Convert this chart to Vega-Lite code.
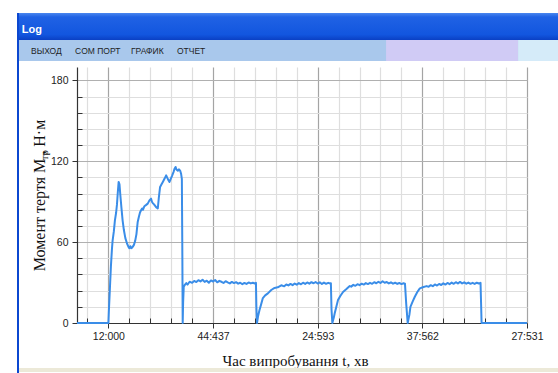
{
  "$schema": "https://vega.github.io/schema/vega-lite/v6.json",
  "background": "white",
  "padding": {"left": 17, "top": 13, "right": 0, "bottom": 0},
  "config": {"view": {"stroke": null}},
  "spacing": 0,
  "bounds": "full",
  "hconcat": [
    {
      "width": 2,
      "height": 360,
      "view": {"fill": "#0b47d0"},
      "data": {"values": [{}]},
      "mark": {"type": "point", "opacity": 0, "size": 0, "strokeWidth": 0},
      "encoding": {}
    },
    {
      "spacing": 0,
      "bounds": "full",
      "vconcat": [
        {
          "width": 539,
          "height": 27,
          "data": {"values": [{"caption": "Log"}]},
          "layer": [
            {
              "mark": {
                "type": "rect",
                "color": {
                  "gradient": "linear", "x1": 0, "y1": 0, "x2": 0, "y2": 1,
                  "stops": [
                    {"offset": 0, "color": "#4a86ee"},
                    {"offset": 0.15, "color": "#2062e4"},
                    {"offset": 0.8, "color": "#1256df"},
                    {"offset": 1, "color": "#0a40c4"}
                  ]
                }
              },
              "encoding": {
                "x": {"datum": 0, "type": "quantitative", "scale": {"domain": [0, 1]}, "axis": null},
                "x2": {"datum": 1},
                "y": {"datum": 0, "type": "quantitative", "scale": {"domain": [0, 1]}, "axis": null},
                "y2": {"datum": 1}
              }
            },
            {
              "mark": {"type": "text", "color": "white", "font": "Liberation Sans", "fontSize": 11, "fontWeight": "bold", "align": "left", "baseline": "alphabetic"},
              "encoding": {
                "text": {"field": "caption"},
                "x": {"datum": 0.005},
                "y": {"datum": 0.27}
              }
            }
          ]
        },
        {
          "width": 539,
          "height": 21,
          "view": {"fill": "#a9c8ec"},
          "layer": [
            {
              "data": {"values": [{}]},
              "mark": {"type": "rect", "color": "#d0cbf5"},
              "encoding": {
                "x": {"datum": 0.681, "type": "quantitative", "scale": {"domain": [0, 1]}, "axis": null},
                "x2": {"datum": 0.926},
                "y": {"datum": 0, "type": "quantitative", "scale": {"domain": [0, 1]}, "axis": null},
                "y2": {"datum": 1}
              }
            },
            {
              "data": {"values": [{}]},
              "mark": {"type": "rect", "color": "#d5ebf9"},
              "encoding": {
                "x": {"datum": 0.926},
                "x2": {"datum": 1},
                "y": {"datum": 0},
                "y2": {"datum": 1}
              }
            },
            {
              "data": {"values": [{"item": "ВЫХОД"}]},
              "mark": {"type": "text", "font": "Liberation Sans", "fontSize": 8.5, "color": "#1e1e1e", "align": "left", "baseline": "alphabetic"},
              "encoding": {"text": {"field": "item"}, "x": {"datum": 0.0223}, "y": {"datum": 0.333}}
            },
            {
              "data": {"values": [{"item": "COM ПОРТ"}]},
              "mark": {"type": "text", "font": "Liberation Sans", "fontSize": 8.5, "color": "#1e1e1e", "align": "left", "baseline": "alphabetic"},
              "encoding": {"text": {"field": "item"}, "x": {"datum": 0.1039}, "y": {"datum": 0.333}}
            },
            {
              "data": {"values": [{"item": "ГРАФИК"}]},
              "mark": {"type": "text", "font": "Liberation Sans", "fontSize": 8.5, "color": "#1e1e1e", "align": "left", "baseline": "alphabetic"},
              "encoding": {"text": {"field": "item"}, "x": {"datum": 0.2078}, "y": {"datum": 0.333}}
            },
            {
              "data": {"values": [{"item": "ОТЧЕТ"}]},
              "mark": {"type": "text", "font": "Liberation Sans", "fontSize": 8.5, "color": "#1e1e1e", "align": "left", "baseline": "alphabetic"},
              "encoding": {"text": {"field": "item"}, "x": {"datum": 0.2931}, "y": {"datum": 0.333}}
            }
          ]
        },
        {
          "width": 539,
          "height": 6,
          "data": {"values": [{}]},
          "mark": {"type": "point", "opacity": 0, "size": 0, "strokeWidth": 0},
          "encoding": {}
        },
        {
          "spacing": 0,
          "bounds": "flush",
          "hconcat": [
            {
              "width": 58,
              "height": 256,
              "data": {"values": [{}]},
              "mark": {"type": "point", "opacity": 0, "size": 0, "strokeWidth": 0},
              "encoding": {}
            },
            {
              "width": 450,
              "height": 256,
              "view": {"fill": "white"},
              "data": {
                "values": [
                  {"t": -1.5, "m": 0}, {"t": 0, "m": 0},
                  {"t": 0.02, "m": 8}, {"t": 0.07, "m": 25}, {"t": 0.12, "m": 42}, {"t": 0.17, "m": 55},
                  {"t": 0.2, "m": 61}, {"t": 0.26, "m": 68}, {"t": 0.31, "m": 76}, {"t": 0.37, "m": 82},
                  {"t": 0.41, "m": 88}, {"t": 0.45, "m": 97}, {"t": 0.49, "m": 104.7}, {"t": 0.53, "m": 103},
                  {"t": 0.57, "m": 95}, {"t": 0.62, "m": 86}, {"t": 0.68, "m": 76}, {"t": 0.74, "m": 69},
                  {"t": 0.81, "m": 63}, {"t": 0.89, "m": 59}, {"t": 0.96, "m": 56.5}, {"t": 1.0, "m": 55.5},
                  {"t": 1.05, "m": 57}, {"t": 1.1, "m": 55.5}, {"t": 1.16, "m": 56.5}, {"t": 1.22, "m": 58},
                  {"t": 1.28, "m": 61}, {"t": 1.34, "m": 66}, {"t": 1.4, "m": 75}, {"t": 1.46, "m": 79},
                  {"t": 1.51, "m": 82}, {"t": 1.56, "m": 83.7}, {"t": 1.61, "m": 85}, {"t": 1.65, "m": 84},
                  {"t": 1.72, "m": 86.7}, {"t": 1.79, "m": 87.5}, {"t": 1.88, "m": 88.6}, {"t": 1.96, "m": 91},
                  {"t": 2.04, "m": 92.3}, {"t": 2.08, "m": 90}, {"t": 2.12, "m": 89}, {"t": 2.18, "m": 88},
                  {"t": 2.28, "m": 86}, {"t": 2.36, "m": 85}, {"t": 2.41, "m": 93}, {"t": 2.47, "m": 101},
                  {"t": 2.54, "m": 103}, {"t": 2.6, "m": 104.7}, {"t": 2.68, "m": 107}, {"t": 2.76, "m": 109.6},
                  {"t": 2.82, "m": 107.5}, {"t": 2.87, "m": 106}, {"t": 2.92, "m": 104.7}, {"t": 2.98, "m": 107},
                  {"t": 3.05, "m": 109.6}, {"t": 3.11, "m": 112}, {"t": 3.16, "m": 114.5}, {"t": 3.21, "m": 115.8},
                  {"t": 3.25, "m": 114}, {"t": 3.32, "m": 113}, {"t": 3.37, "m": 114}, {"t": 3.43, "m": 113},
                  {"t": 3.47, "m": 111}, {"t": 3.51, "m": 107}, {"t": 3.53, "m": 60}, {"t": 3.55, "m": 0},
                  {"t": 3.57, "m": 15}, {"t": 3.6, "m": 27}, {"t": 3.66, "m": 28.5}, {"t": 3.72, "m": 29.6},
                  {"t": 3.78, "m": 28.5}, {"t": 3.88, "m": 30.6},
                  {"t": 3.9, "m": 30.6}, {"t": 4.0, "m": 29.8}, {"t": 4.1, "m": 31.2}, {"t": 4.2, "m": 30.4},
                  {"t": 4.3, "m": 31.8}, {"t": 4.4, "m": 30.9}, {"t": 4.5, "m": 32.1}, {"t": 4.6, "m": 30.5},
                  {"t": 4.7, "m": 31.4}, {"t": 4.8, "m": 29.9}, {"t": 4.9, "m": 31.6}, {"t": 5.0, "m": 30.8},
                  {"t": 5.1, "m": 31.9}, {"t": 5.2, "m": 30.2}, {"t": 5.3, "m": 31.3}, {"t": 5.4, "m": 30.6},
                  {"t": 5.5, "m": 29.7}, {"t": 5.6, "m": 31.0}, {"t": 5.7, "m": 30.1}, {"t": 5.8, "m": 29.4},
                  {"t": 5.9, "m": 30.5}, {"t": 6.0, "m": 29.6}, {"t": 6.1, "m": 30.3}, {"t": 6.2, "m": 29.2},
                  {"t": 6.3, "m": 29.9}, {"t": 6.4, "m": 28.8}, {"t": 6.5, "m": 29.7}, {"t": 6.6, "m": 29.0},
                  {"t": 6.7, "m": 30.1}, {"t": 6.8, "m": 29.4}, {"t": 6.9, "m": 29.9}, {"t": 7.0, "m": 29.3},
                  {"t": 7.05, "m": 29.8}, {"t": 7.07, "m": 12}, {"t": 7.1, "m": 0}, {"t": 7.15, "m": 5},
                  {"t": 7.22, "m": 9.6}, {"t": 7.3, "m": 14}, {"t": 7.38, "m": 18.5}, {"t": 7.49, "m": 20.5},
                  {"t": 7.62, "m": 22}, {"t": 7.78, "m": 24.5}, {"t": 7.94, "m": 26}, {"t": 8.09, "m": 26.5},
                  {"t": 8.26, "m": 28},
                  {"t": 8.4, "m": 27.2}, {"t": 8.5, "m": 28.6}, {"t": 8.6, "m": 27.9}, {"t": 8.7, "m": 29.0},
                  {"t": 8.8, "m": 28.1}, {"t": 8.9, "m": 29.3}, {"t": 9.0, "m": 28.4}, {"t": 9.1, "m": 29.6},
                  {"t": 9.2, "m": 28.7}, {"t": 9.3, "m": 29.9}, {"t": 9.4, "m": 29.0}, {"t": 9.5, "m": 30.1},
                  {"t": 9.6, "m": 29.2}, {"t": 9.7, "m": 30.3}, {"t": 9.8, "m": 29.5}, {"t": 9.9, "m": 30.4},
                  {"t": 10.0, "m": 29.3}, {"t": 10.1, "m": 30.2}, {"t": 10.2, "m": 29.0}, {"t": 10.3, "m": 30.0},
                  {"t": 10.4, "m": 29.1}, {"t": 10.5, "m": 29.8}, {"t": 10.6, "m": 29.3},
                  {"t": 10.63, "m": 29.5}, {"t": 10.66, "m": 10}, {"t": 10.7, "m": 0}, {"t": 10.77, "m": 4},
                  {"t": 10.81, "m": 7}, {"t": 10.89, "m": 12}, {"t": 10.97, "m": 17}, {"t": 11.08, "m": 20},
                  {"t": 11.21, "m": 23}, {"t": 11.36, "m": 25}, {"t": 11.53, "m": 27.4},
                  {"t": 11.6, "m": 27.0}, {"t": 11.7, "m": 28.3}, {"t": 11.8, "m": 27.6}, {"t": 11.9, "m": 28.8},
                  {"t": 12.0, "m": 28.1}, {"t": 12.1, "m": 29.2}, {"t": 12.2, "m": 28.5}, {"t": 12.3, "m": 29.6},
                  {"t": 12.4, "m": 28.9}, {"t": 12.5, "m": 29.8}, {"t": 12.6, "m": 29.1}, {"t": 12.7, "m": 30.3},
                  {"t": 12.8, "m": 29.5}, {"t": 12.9, "m": 30.6}, {"t": 13.0, "m": 29.7}, {"t": 13.1, "m": 31.0},
                  {"t": 13.2, "m": 29.9}, {"t": 13.3, "m": 30.4}, {"t": 13.4, "m": 29.4}, {"t": 13.5, "m": 30.2},
                  {"t": 13.6, "m": 29.2}, {"t": 13.7, "m": 29.9}, {"t": 13.8, "m": 29.0}, {"t": 13.9, "m": 29.7},
                  {"t": 14.0, "m": 28.9}, {"t": 14.1, "m": 29.5}, {"t": 14.17, "m": 29.2},
                  {"t": 14.23, "m": 14}, {"t": 14.3, "m": 0}, {"t": 14.38, "m": 6}, {"t": 14.43, "m": 12},
                  {"t": 14.54, "m": 16}, {"t": 14.64, "m": 19.5}, {"t": 14.76, "m": 23}, {"t": 14.88, "m": 25.7},
                  {"t": 15.02, "m": 26.5}, {"t": 15.2, "m": 27.4},
                  {"t": 15.3, "m": 26.9}, {"t": 15.4, "m": 28.1}, {"t": 15.5, "m": 27.3}, {"t": 15.6, "m": 28.6},
                  {"t": 15.7, "m": 27.8}, {"t": 15.8, "m": 29.0}, {"t": 15.9, "m": 28.2}, {"t": 16.0, "m": 29.4},
                  {"t": 16.1, "m": 28.5}, {"t": 16.2, "m": 29.7}, {"t": 16.3, "m": 28.8}, {"t": 16.4, "m": 30.0},
                  {"t": 16.5, "m": 29.1}, {"t": 16.6, "m": 30.3}, {"t": 16.7, "m": 29.3}, {"t": 16.8, "m": 30.5},
                  {"t": 16.9, "m": 29.4}, {"t": 17.0, "m": 30.2}, {"t": 17.1, "m": 29.2}, {"t": 17.2, "m": 30.0},
                  {"t": 17.3, "m": 29.1}, {"t": 17.4, "m": 29.8}, {"t": 17.5, "m": 29.0}, {"t": 17.6, "m": 29.9},
                  {"t": 17.7, "m": 29.3}, {"t": 17.78, "m": 29.8},
                  {"t": 17.81, "m": 12}, {"t": 17.83, "m": 0}, {"t": 20, "m": 0}
                ]
              },
              "resolve": {"axis": {"x": "independent", "y": "independent"}},
              "layer": [
                {
                  "mark": {"type": "line", "opacity": 0},
                  "encoding": {
                    "x": {
                      "field": "t",
                      "type": "quantitative",
                      "scale": {"domain": [-1.5, 20], "nice": false, "zero": false},
                      "axis": {
                        "orient": "bottom",
                        "values": [-1, 1, 2, 3, 4, 6, 7, 8, 9, 11, 12, 13, 14, 16, 17, 18, 19],
                        "grid": true,
                        "gridColor": "#dedede",
                        "gridWidth": 1.2,
                        "domain": false,
                        "labels": false,
                        "tickColor": "#333333",
                        "tickSize": -5,
                        "title": null
                      }
                    },
                    "y": {
                      "field": "m",
                      "type": "quantitative",
                      "scale": {"domain": [0, 190], "nice": false},
                      "axis": {
                        "orient": "left",
                        "values": [12, 24, 36, 48, 72, 84, 96, 108, 132, 144, 156, 168],
                        "grid": true,
                        "gridColor": "#dedede",
                        "gridWidth": 1.2,
                        "domain": false,
                        "labels": false,
                        "tickColor": "#333333",
                        "tickSize": -5,
                        "title": null
                      }
                    }
                  }
                },
                {
                  "mark": {"type": "line", "color": "#3a8de8", "strokeWidth": 2, "strokeJoin": "round"},
                  "encoding": {
                    "x": {
                      "field": "t",
                      "type": "quantitative",
                      "axis": {
                        "orient": "bottom",
                        "values": [0, 5, 10, 15, 20],
                        "labelExpr": "datum.value == 0 ? '12:000' : datum.value == 5 ? '44:437' : datum.value == 10 ? '24:593' : datum.value == 15 ? '37:562' : '27:531'",
                        "grid": true,
                        "gridColor": "#a4a4a4",
                        "gridWidth": 1.2,
                        "tickColor": "#333333",
                        "tickSize": 5,
                        "domainColor": "#333333",
                        "domainWidth": 1.2,
                        "labelFont": "Liberation Sans",
                        "labelFontSize": 10.5,
                        "labelColor": "#222222",
                        "labelPadding": 3,
                        "labelFlush": false,
                        "labelOverlap": false,
                        "title": "Час випробування t, хв",
                        "titleFont": "Liberation Serif",
                        "titleFontSize": 15,
                        "titleFontWeight": "normal",
                        "titleColor": "#111111",
                        "titleX": 218,
                        "titleY": 42,
                        "titleBaseline": "alphabetic"
                      }
                    },
                    "y": {
                      "field": "m",
                      "type": "quantitative",
                      "axis": {
                        "orient": "left",
                        "values": [0, 60, 120, 180],
                        "grid": true,
                        "gridColor": "#b0b0b0",
                        "gridWidth": 1.2,
                        "tickColor": "#333333",
                        "tickSize": 5,
                        "domainColor": "#333333",
                        "domainWidth": 1.2,
                        "labelFont": "Liberation Sans",
                        "labelFontSize": 10.5,
                        "labelColor": "#222222",
                        "labelPadding": 4,
                        "labelOverlap": false,
                        "title": "Момент тертя M   , Н·м",
                        "titleFont": "Liberation Serif",
                        "titleFontSize": 16,
                        "titleFontWeight": "normal",
                        "titleColor": "#111111",
                        "titleAngle": 270,
                        "titleAlign": "center",
                        "titleBaseline": "alphabetic",
                        "titleX": -33,
                        "titleY": 128
                      }
                    }
                  }
                },
                {
                  "data": {"values": [{"sub": "тр"}]},
                  "mark": {"type": "text", "font": "Liberation Serif", "fontSize": 11, "color": "#111111", "angle": 270, "align": "left", "baseline": "alphabetic", "dy": -29},
                  "encoding": {
                    "text": {"field": "sub"},
                    "x": {"datum": -1.5, "axis": null},
                    "y": {"datum": 120.7, "axis": null}
                  }
                }
              ]
            }
          ]
        },
        {
          "width": 539,
          "height": 4,
          "view": {"fill": "#ece9d8"},
          "data": {"values": [{}]},
          "mark": {"type": "point", "opacity": 0, "size": 0, "strokeWidth": 0},
          "encoding": {}
        }
      ]
    }
  ]
}
